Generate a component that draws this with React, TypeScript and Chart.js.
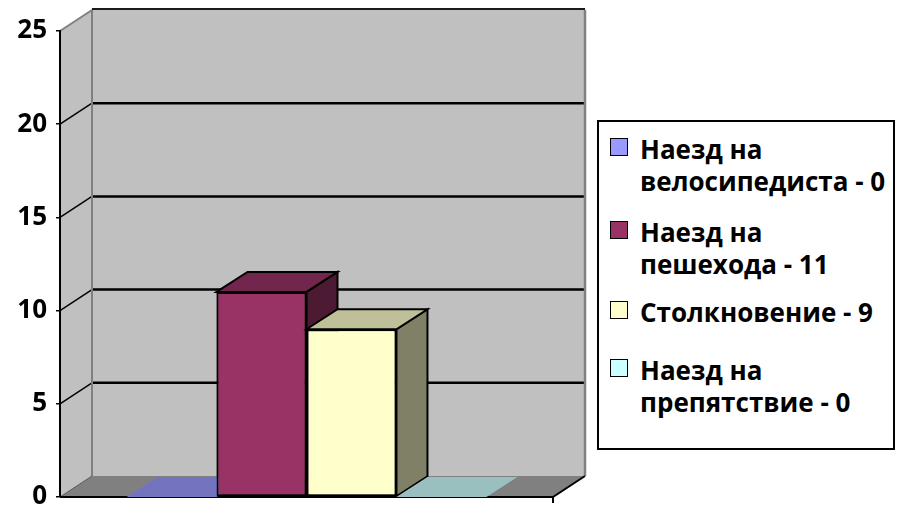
import React, { useEffect, useRef } from 'react';
import { Chart, registerables } from 'chart.js';

Chart.register(...registerables);

// ---- data ----
const categories: string[] = [''];
const seriesNames: string[] = [
  'Наезд на велосипедиста - 0',
  'Наезд на пешехода - 11',
  'Столкновение - 9',
  'Наезд на препятствие - 0',
];
const legendLines: string[][] = [
  ['Наезд на', 'велосипедиста - 0'],
  ['Наезд на', 'пешехода - 11'],
  ['Столкновение - 9'],
  ['Наезд на', 'препятствие - 0'],
];
const seriesValues: number[] = [0, 11, 9, 0];
const seriesColors: string[] = ['#9999FF', '#993366', '#FFFFCC', '#CCFFFF'];
const yMin = 0;
const yMax = 25;
const yStep = 5;

// ---- styling constants ----
const FONT = '"Open Sans", "Liberation Sans", Arial, sans-serif';
const WDX = 32, WDY = -21; // wall depth
const BDX = 31, BDY = -20; // bar depth

function shade(hex: string, f: number): string {
  const n = parseInt(hex.slice(1), 16);
  const r = Math.round(((n >> 16) & 255) * f);
  const g = Math.round(((n >> 8) & 255) * f);
  const b = Math.round((n & 255) * f);
  return `rgb(${r},${g},${b})`;
}

function poly(ctx: CanvasRenderingContext2D, pts: number[][]) {
  ctx.beginPath();
  ctx.moveTo(pts[0][0], pts[0][1]);
  for (let i = 1; i < pts.length; i++) ctx.lineTo(pts[i][0], pts[i][1]);
  ctx.closePath();
}

function line(ctx: CanvasRenderingContext2D, pts: number[][], color: string, w: number) {
  ctx.beginPath();
  ctx.moveTo(pts[0][0], pts[0][1]);
  for (let i = 1; i < pts.length; i++) ctx.lineTo(pts[i][0], pts[i][1]);
  ctx.strokeStyle = color;
  ctx.lineWidth = w;
  ctx.stroke();
}

const box3d = {
  id: 'box3d',
  beforeDraw(chart: any) {
    const { ctx, chartArea } = chart;
    const { left: L, right: R, top: T, bottom: B } = chartArea;
    const ys = chart.scales.y;
    ctx.save();
    // walls
    ctx.fillStyle = '#c0c0c0';
    poly(ctx, [[L, T], [L + WDX, T + WDY], [L + WDX, B + WDY], [L, B]]);
    ctx.fill();
    ctx.fillRect(L + WDX, T + WDY, R - L, B - T);
    // floor
    ctx.fillStyle = '#808080';
    poly(ctx, [[L, B], [R, B], [R + WDX, B + WDY], [L + WDX, B + WDY]]);
    ctx.fill();
    // gridlines from the scale ticks
    for (const t of ys.ticks) {
      const v = t.value;
      if (v <= yMin || v >= yMax) continue;
      const py = ys.getPixelForValue(v);
      line(ctx, [[L, py], [L + WDX, py + WDY]], '#000', 1.5);
      line(ctx, [[L + WDX, py + WDY], [R + WDX, py + WDY]], '#000', 2.5);
    }
    // edges
    line(ctx, [[L, T], [L + WDX, T + WDY]], '#808080', 2);
    line(ctx, [[L + WDX, T + WDY - 1], [R + WDX, T + WDY - 1]], '#1a1a1a', 2);
    line(ctx, [[L + WDX, T + WDY], [L + WDX, B + WDY]], '#808080', 2);
    line(ctx, [[R + WDX, T + WDY], [R + WDX, B + WDY]], '#808080', 2.5);
    line(ctx, [[L, B], [L + WDX, B + WDY]], '#555', 1);
    line(ctx, [[R, B], [R + WDX, B + WDY]], '#000', 2);
    line(ctx, [[L, B], [R, B]], '#000', 2);
    line(ctx, [[R, B], [R, B + 6]], '#000', 2);
    ctx.restore();
  },
  afterDatasetsDraw(chart: any) {
    const { ctx, chartArea } = chart;
    const items: any[] = [];
    chart.getSortedVisibleDatasetMetas().forEach((meta: any) => {
      const color = chart.data.datasets[meta.index].backgroundColor as string;
      meta.data.forEach((el: any) => items.push({ el, color }));
    });
    items.sort((a, b) => a.el.x - b.el.x);
    ctx.save();
    ctx.lineJoin = 'miter';
    for (const { el, color } of items) {
      const { x, y, base, width } = el.getProps(['x', 'y', 'base', 'width'], true);
      const l = x - width / 2;
      const r = x + width / 2;
      const h = base - y;
      if (h > 0.5) {
        el.draw(ctx, chartArea);
        // side face
        poly(ctx, [[r, y], [r + BDX, y + BDY], [r + BDX, base + BDY], [r, base]]);
        ctx.fillStyle = shade(color, 0.5);
        ctx.fill();
        ctx.strokeStyle = '#000';
        ctx.lineWidth = 2;
        ctx.stroke();
      }
      // top face
      poly(ctx, [[l, y], [l + BDX, y + BDY], [r + BDX, y + BDY], [r, y]]);
      ctx.fillStyle = shade(color, 0.75);
      ctx.fill();
      if (h > 0.5) {
        ctx.strokeStyle = '#000';
        ctx.lineWidth = 2;
        ctx.stroke();
      }
    }
    ctx.restore();
  },
};

const legendTops = [133, 216, 296, 354];

export default function App() {
  const canvasRef = useRef<HTMLCanvasElement | null>(null);

  useEffect(() => {
    if (!canvasRef.current) return;
    const chart = new Chart(canvasRef.current, {
      type: 'bar',
      data: {
        labels: categories,
        datasets: seriesNames.map((name, i) => ({
          label: name,
          data: [seriesValues[i]],
          backgroundColor: seriesColors[i],
          borderColor: '#000',
          borderWidth: 2,
          borderSkipped: false,
          categoryPercentage: 0.73,
          barPercentage: 1,
        })),
      },
      options: {
        animation: false,
        responsive: false,
        events: [],
        layout: { padding: { left: 0, right: 344, top: 31, bottom: 12 } },
        plugins: {
          legend: { display: false },
          tooltip: { enabled: false },
        },
        scales: {
          x: { display: false },
          y: {
            min: yMin,
            max: yMax,
            ticks: {
              stepSize: yStep,
              color: '#000',
              padding: 9,
              font: { family: FONT, size: 26, weight: 'bold' },
            },
            grid: { drawOnChartArea: false, drawTicks: true, tickLength: 4, color: '#000', lineWidth: 1.5 },
            border: { color: '#000', width: 2 },
            afterFit: (s: any) => { s.width = 60; s.paddingTop = 0; s.paddingBottom = 0; },
          },
        },
      },
      plugins: [box3d],
    } as any);
    return () => chart.destroy();
  }, []);

  return (
    <div style={{ position: 'fixed', left: 0, top: 0, width: 897, height: 509, background: '#fff', overflow: 'hidden' }}>
      <canvas ref={canvasRef} width={897} height={509} style={{ position: 'absolute', left: 0, top: 0, width: 897, height: 509 }} />
      <div style={{ position: 'absolute', left: 597, top: 120, width: 298, height: 330, boxSizing: 'border-box', border: '2px solid #000', background: '#fff' }} />
      {legendLines.map((lines, i) => (
        <div key={i} style={{ position: 'absolute', left: 610, top: legendTops[i] }}>
          <div style={{ position: 'absolute', left: 0, top: 5, width: 18, height: 18, boxSizing: 'border-box', border: '1.5px solid #000', background: seriesColors[i] }} />
          <div style={{ position: 'absolute', left: 30, top: 0, whiteSpace: 'nowrap', fontFamily: FONT, fontWeight: 'bold', fontSize: 26, lineHeight: '32px', color: '#000' }}>
            {lines.map((t, j) => (<div key={j}>{t}</div>))}
          </div>
        </div>
      ))}
    </div>
  );
}
